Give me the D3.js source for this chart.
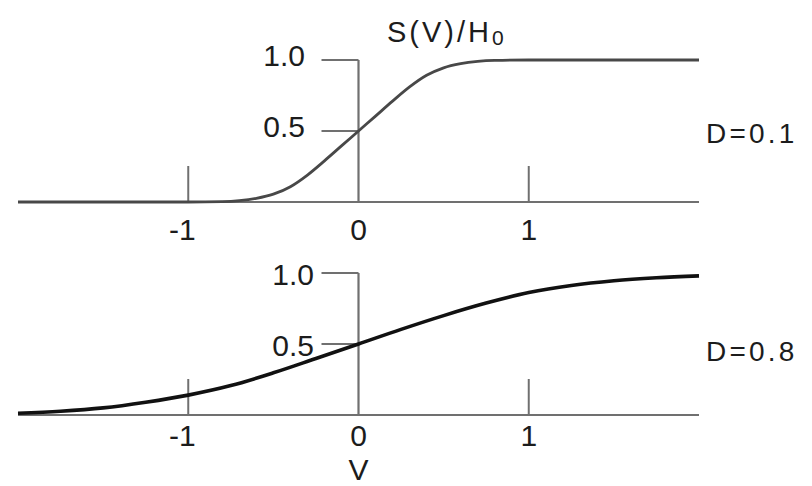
<!DOCTYPE html>
<html>
<head>
<meta charset="utf-8">
<script src="https://cdn.jsdelivr.net/npm/d3@7"></script>
<style>
  html, body { margin: 0; padding: 0; background: #fff; }
  svg { display: block; }
  text { font-family: "Liberation Sans", Arial, Helvetica, sans-serif; fill: #1c1c1c; }
</style>
</head>
<body>
<svg id="chart" width="812" height="486"></svg>
<script>
// Normalised response S(V)/H0 for two values of D
const vTop = [-2, -1, -0.8, -0.7, -0.6, -0.5, -0.4, -0.3, -0.2, -0.1, 0, 0.1, 0.2, 0.3, 0.4, 0.5, 0.6, 0.7, 0.8, 1, 2];
const sTop = [0, 0, 0.003, 0.01, 0.026, 0.055, 0.108, 0.19, 0.29, 0.395, 0.5, 0.605, 0.71, 0.81, 0.892, 0.945, 0.974, 0.99, 0.997, 1, 1];

const vBottom = [-2, -1.75, -1.5, -1.25, -1, -0.75, -0.5, -0.25, 0, 0.25, 0.5, 0.75, 1, 1.25, 1.5, 1.75, 2];
const sBottom = [0.012, 0.026, 0.05, 0.09, 0.14, 0.207, 0.297, 0.398, 0.5, 0.603, 0.7, 0.788, 0.862, 0.912, 0.945, 0.966, 0.98];

const xTicks = [-1, 0, 1];
const yTicks = [0.5, 1.0];
const panelLabels = ["D=0.1", "D=0.8"];

const svg = d3.select("#chart");

const x = d3.scaleLinear().domain([-2, 2]).range([18, 699]);

function drawPanel(cfg) {
  const y = d3.scaleLinear().domain([0, 1]).range([cfg.y0, cfg.y0 - 142]);
  const g = svg.append("g");
  const axisColor = "#707070";

  // horizontal V axis
  g.append("line")
    .attr("x1", x(-2)).attr("x2", x(2))
    .attr("y1", y(0)).attr("y2", y(0))
    .attr("stroke", axisColor).attr("stroke-width", 2.2);

  // vertical S axis at V = 0
  g.append("line")
    .attr("x1", x(0)).attr("x2", x(0))
    .attr("y1", y(0)).attr("y2", y(1))
    .attr("stroke", axisColor).attr("stroke-width", 2.2);

  // V ticks pointing up
  g.selectAll(".xt").data(xTicks.filter(d => d !== 0)).enter().append("line")
    .attr("x1", d => x(d)).attr("x2", d => x(d))
    .attr("y1", y(0)).attr("y2", y(0) - 36)
    .attr("stroke", axisColor).attr("stroke-width", 2);

  // S ticks pointing left
  g.selectAll(".yt").data(yTicks).enter().append("line")
    .attr("x1", x(0) - 37).attr("x2", x(0))
    .attr("y1", d => y(d)).attr("y2", d => y(d))
    .attr("stroke", axisColor).attr("stroke-width", 2);

  // curve
  const line = d3.line()
    .x((d, i) => x(cfg.v[i]))
    .y(d => y(d))
    .curve(d3.curveMonotoneX);
  g.append("path")
    .datum(cfg.s)
    .attr("d", line)
    .attr("fill", "none")
    .attr("stroke", cfg.color)
    .attr("stroke-width", cfg.width)
    .attr("stroke-linejoin", "round");

  // V tick labels
  g.selectAll(".xl").data(xTicks).enter().append("text")
    .attr("x", d => x(d) + (d < 0 ? -6 : 0))
    .attr("y", cfg.xLabelBase)
    .attr("text-anchor", "middle")
    .attr("font-size", 30)
    .text(d => d3.format("d")(d).replace("\u2212", "-"));

  // S tick labels
  g.selectAll(".yl").data(yTicks).enter().append("text")
    .attr("x", cfg.yLabelRight)
    .attr("y", d => y(d) + cfg.yLabelDy)
    .attr("text-anchor", "end")
    .attr("font-size", 30)
    .text(d => d3.format(".1f")(d));

  // panel label
  g.append("text")
    .attr("x", 706)
    .attr("y", cfg.labelBase)
    .attr("font-size", 28)
    .attr("letter-spacing", 3.2)
    .text(cfg.label);
}

drawPanel({
  y0: 202, v: vTop, s: sTop, color: "#484848", width: 2.8,
  xLabelBase: 240, yLabelRight: 305, yLabelDy: 6, labelBase: 143, label: panelLabels[0]
});

drawPanel({
  y0: 415, v: vBottom, s: sBottom, color: "#111111", width: 3.6,
  xLabelBase: 446, yLabelRight: 314, yLabelDy: 12, labelBase: 361, label: panelLabels[1]
});

// axis titles
const title = svg.append("text")
  .attr("x", 387).attr("y", 42)
  .attr("font-size", 29)
  .attr("letter-spacing", 3);
title.append("tspan").text("S(V)/H");
title.append("tspan").attr("font-size", 21).attr("dy", 3).text("0");

svg.append("text")
  .attr("x", x(0)).attr("y", 480)
  .attr("text-anchor", "middle")
  .attr("font-size", 30)
  .text("V");
</script>
</body>
</html>
